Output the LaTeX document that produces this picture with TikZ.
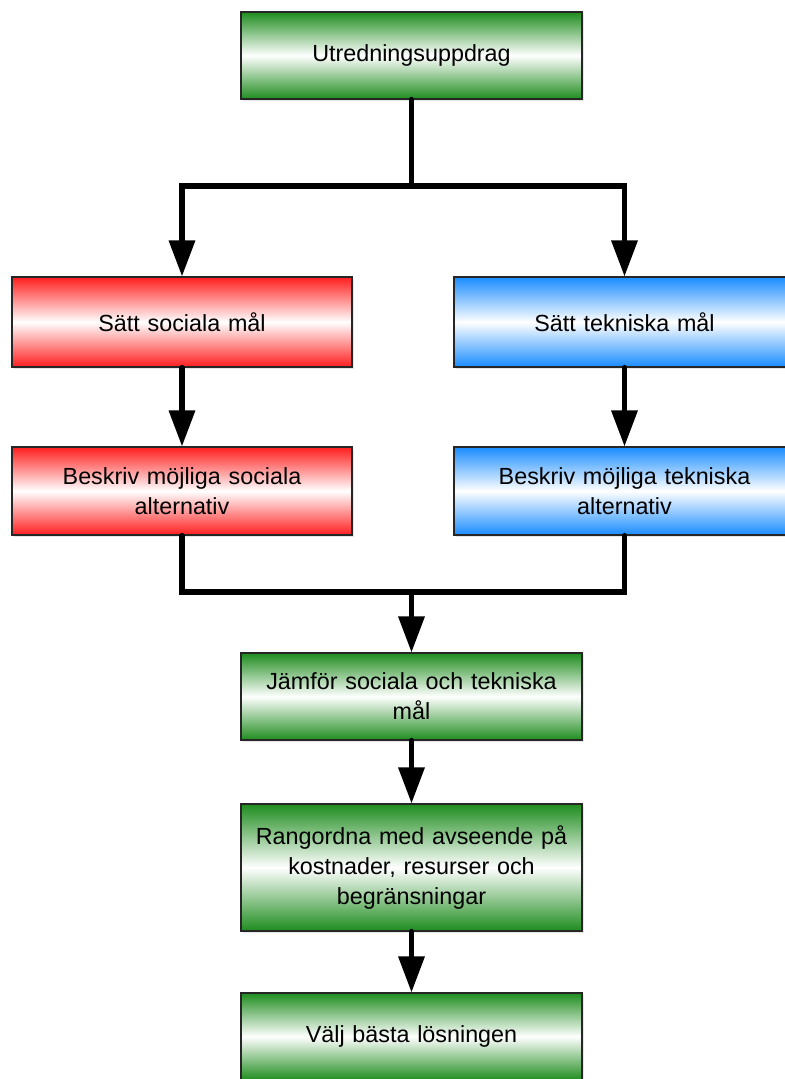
\documentclass[tikz,border=0pt]{standalone}
\usepackage{fontspec}
\setmainfont{Liberation Sans}
\usetikzlibrary{arrows.meta,shadows}

\definecolor{boxgreen}{RGB}{30,140,30}
\definecolor{boxred}{RGB}{255,30,30}
\definecolor{boxblue}{RGB}{25,140,255}

\tikzset{
  stage/.style={draw=black!85, line width=0.8pt, rectangle,
    minimum width=255.75pt, text width=240pt, align=center,
    font=\fontsize{17.5}{22.5}\selectfont, inner sep=0pt,
    drop shadow={opacity=0.2, shadow xshift=1.2pt, shadow yshift=-1.2pt}},
  greenbox/.style={stage, top color=boxgreen, bottom color=boxgreen, middle color=white},
  redbox/.style={stage, top color=boxred, bottom color=boxred, middle color=white},
  bluebox/.style={stage, top color=boxblue, bottom color=boxblue, middle color=white},
  flow/.style={line width=4pt, line cap=round, line join=miter},
  flowarrow/.style={flow, -{Triangle[length=27pt,width=19pt]}}
}

\begin{document}
\begin{tikzpicture}[x=0.75pt, y=-0.75pt]
  \useasboundingbox (0,0) rectangle (785,1079);

  % process stages
  \node[greenbox, minimum height=65.25pt] (assign) at (411.5,55.5) {Utredningsuppdrag};
  \node[redbox, minimum width=255pt, minimum height=67.5pt] (sgoal) at (182,322) {Sätt sociala mål};
  \node[bluebox, minimum height=67.5pt] (tgoal) at (624.5,322) {Sätt tekniska mål};
  \node[redbox, minimum width=255pt, minimum height=66pt] (salt) at (182,491) {Beskriv möjliga sociala\\alternativ};
  \node[bluebox, minimum height=66pt] (talt) at (624.5,491) {Beskriv möjliga tekniska\\alternativ};
  \node[greenbox, minimum height=65.25pt] (compare) at (411.5,696.5) {Jämför sociala och tekniska\\mål};
  \node[greenbox, minimum height=95.25pt] (rank) at (411.5,867.5) {Rangordna med avseende på\\kostnader, resurser och\\begränsningar};
  \node[greenbox, minimum height=65.25pt] (choose) at (411.5,1036.5) {Välj bästa lösningen};

  % branching and joining points
  \coordinate (split) at (411.5,186);
  \coordinate (join) at (411.5,592);

  % connectors
  \draw[flow] (assign.south) -- (split);
  \draw[flowarrow] (split) -| (sgoal.north);
  \draw[flowarrow] (split) -| (tgoal.north);
  \draw[flowarrow] (sgoal.south) -- (salt.north);
  \draw[flowarrow] (tgoal.south) -- (talt.north);
  \draw[flow] (salt.south) |- (join);
  \draw[flow] (talt.south) |- (join);
  \draw[flowarrow] (join) -- (compare.north);
  \draw[flowarrow] (compare.south) -- (rank.north);
  \draw[flowarrow] (rank.south) -- (choose.north);
\end{tikzpicture}
\end{document}
